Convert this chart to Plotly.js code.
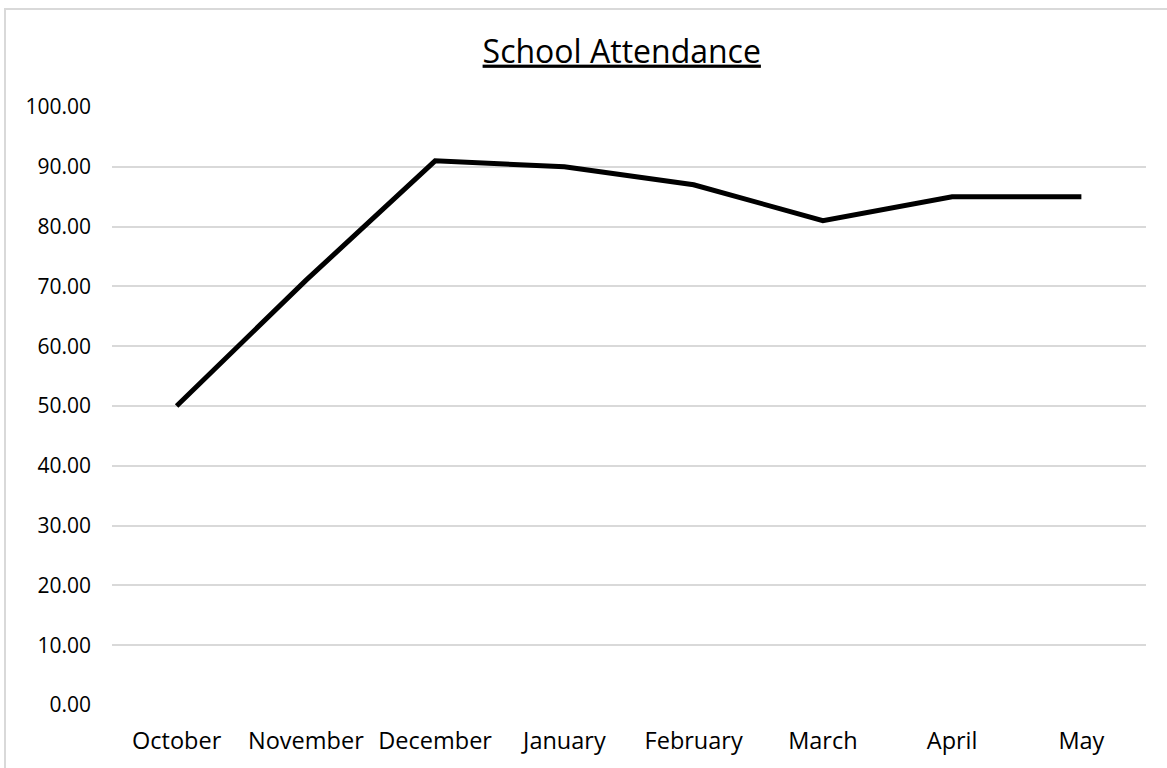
<!DOCTYPE html>
<html>
<head>
<meta charset="utf-8">
<script src="https://cdn.plot.ly/plotly-3.0.1.min.js"></script>
<style>
  html, body { margin: 0; padding: 0; background: #ffffff; overflow: hidden; }
  #frame { position: absolute; left: 4px; top: 8px; width: 1300px; height: 900px;
           border-left: 2px solid #d9d9d9; border-top: 2px solid #d9d9d9; }
  #chart { position: absolute; left: 0; top: 0; width: 1167px; height: 768px; }
</style>
</head>
<body>
<div id="frame"></div>
<div id="chart"></div>
<script>
const months = ["October", "November", "December", "January", "February", "March", "April", "May"];
const attendance = [50, 71, 91, 90, 87, 81, 85, 85];
const yTicks = [0, 10, 20, 30, 40, 50, 60, 70, 80, 90, 100];
const chartTitle = "School Attendance";

const trace = {
  type: "scatter",
  mode: "lines",
  x: months,
  y: attendance,
  line: { color: "#000000", width: 5 },
  hoverinfo: "x+y"
};

const layout = {
  width: 1167,
  height: 768,
  margin: { l: 112, r: 21, t: 107, b: 63 },
  paper_bgcolor: "rgba(0,0,0,0)",
  plot_bgcolor: "rgba(0,0,0,0)",
  showlegend: false,
  font: { family: "Open Sans, sans-serif", color: "#000000" },
  title: {
    text: "<u>" + chartTitle + "</u>",
    font: { family: "Open Sans, sans-serif", size: 32, color: "#000000" },
    xref: "paper",
    x: 0.493,
    xanchor: "center",
    yref: "container",
    y: 0.933,
    yanchor: "middle"
  },
  xaxis: {
    type: "category",
    range: [-0.5, months.length - 0.5],
    showgrid: false,
    zeroline: false,
    showline: false,
    ticks: "",
    ticklabelstandoff: 19,
    tickfont: { family: "Open Sans, sans-serif", size: 23.5, color: "#000000" },
    fixedrange: true
  },
  yaxis: {
    range: [0, 100],
    tickvals: yTicks,
    tickformat: ".2f",
    showgrid: true,
    gridcolor: "#d9d9d9",
    gridwidth: 2,
    zeroline: false,
    showline: false,
    ticks: "",
    ticklabelstandoff: 20,
    tickfont: { family: "Open Sans, sans-serif", size: 21, color: "#000000" },
    fixedrange: true
  }
};

Plotly.newPlot("chart", [trace], layout, { displayModeBar: false, staticPlot: true });
</script>
</body>
</html>
